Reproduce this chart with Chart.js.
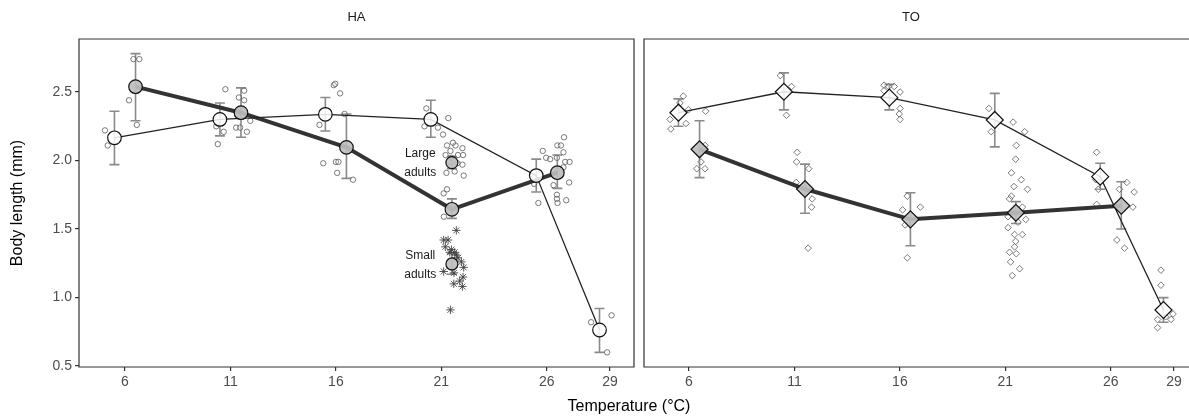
<!DOCTYPE html>
<html>
<head>
<meta charset="utf-8">
<script src="https://cdn.jsdelivr.net/npm/chart.js@4.4.0/dist/chart.umd.min.js"></script>
<style>
  html, body { margin: 0; padding: 0; background: #fff; overflow: hidden; }
  #wrap { position: relative; width: 1189px; height: 417px; overflow: hidden; }
  canvas { position: absolute; top: 0; }
  #left { left: 0; }
  #right { left: 640px; }
  #xtitle { position: absolute; left: 0; width: 1258px; top: 397px; text-align: center;
            font: 16px "Liberation Sans", Arial, sans-serif; color: #000; line-height: 18px; }
</style>
</head>
<body>
<div id="wrap">
  <canvas id="left" width="640" height="417"></canvas>
  <canvas id="right" width="549" height="417"></canvas>
  <div id="xtitle">Temperature (°C)</div>
</div>
<script>
// ---- data ----
const xTicks = [6, 11, 16, 21, 26, 29];
const yTicks = [0.5, 1.0, 1.5, 2.0, 2.5];
const dodge = 0.5;

const whiteTemps = [6, 11, 16, 21, 26, 29];
const greyTemps = [6, 11, 16, 21, 26];

// HA panel
const haWhiteMean = [2.166, 2.30, 2.337, 2.30, 1.89, 0.763];
const haWhiteLow  = [1.97, 2.18, 2.215, 2.17, 1.77, 0.60];
const haWhiteHigh = [2.36, 2.42, 2.46, 2.44, 2.01, 0.92];
const haGreyMean = [2.539, 2.349, 2.096, 1.644, 1.911];
const haGreyLow  = [2.29, 2.17, 1.87, 1.578, 1.797];
const haGreyHigh = [2.78, 2.53, 2.34, 1.72, 2.04];
const adultLabels = ["Large adults", "Small adults"];
const adultTemp = 21;
const adultMean = [1.985, 1.245];
const adultLow  = [1.94, 1.17];
const adultHigh = [2.03, 1.32];

const haWhiteRaw = [[5.05,2.22],[5.18,2.11],
  [10.76,2.52],[10.33,2.25],[10.68,2.21],[10.40,2.12],
  [15.22,2.26],[15.90,2.55],[15.97,2.56],[16.20,2.49],
  [20.29,2.38],[21.33,2.31],[20.20,2.25],[20.84,2.24],[21.08,2.19],
  [25.81,2.07],[25.97,2.02],[26.16,2.01],[25.40,1.83],[25.60,1.69],
  [28.10,0.82],[29.07,0.87],[28.86,0.60]];
const haGreyRaw = [[6.40,2.74],[6.68,2.74],[6.19,2.44],[6.56,2.26],
  [11.40,2.46],[11.65,2.51],[11.65,2.44],[11.94,2.29],[11.27,2.24],[11.46,2.24],[11.78,2.21],
  [16.41,2.34],[15.40,1.98],[16.00,1.99],[16.12,1.99],[16.06,1.91],[16.81,1.86],
  [21.27,2.11],[21.67,2.11],[22.00,2.09],[21.43,2.07],[21.20,2.04],[21.79,2.04],[22.03,2.04],
  [21.48,2.02],[22.00,1.97],[21.76,1.98],[21.24,1.91],[21.63,1.92],[22.06,1.89],[21.55,2.13],[21.35,1.99],
  [21.11,1.76],[21.27,1.79],[21.12,1.59],
  [26.82,2.17],[26.50,2.11],[26.67,2.11],[26.79,2.06],[26.48,2.02],[26.87,1.99],[27.08,1.99],
  [26.79,1.95],[27.06,1.84],[26.32,1.82],[26.48,1.75],[26.48,1.72],[26.51,1.69],[26.92,1.71]];
const haSmallRaw = [[21.71,1.49],[21.11,1.42],[21.32,1.42],[21.19,1.37],[21.48,1.35],[21.63,1.33],
  [21.40,1.33],[21.71,1.31],[21.79,1.29],[21.95,1.26],[22.06,1.22],[21.11,1.19],[21.60,1.18],
  [22.03,1.15],[21.87,1.12],[21.59,1.10],[22.00,1.08],[21.43,0.91]];

// TO panel
const toWhiteMean = [2.349, 2.502, 2.459, 2.296, 1.882, 0.909];
const toWhiteLow  = [2.25, 2.37, 2.37, 2.10, 1.79, 0.82];
const toWhiteHigh = [2.45, 2.64, 2.556, 2.49, 1.98, 0.999];
const toGreyMean = [2.082, 1.792, 1.571, 1.619, 1.67];
const toGreyLow  = [1.875, 1.615, 1.378, 1.54, 1.50];
const toGreyHigh = [2.29, 1.974, 1.765, 1.70, 1.845];

const toWhiteRaw = [[5.73,2.47],[5.57,2.42],[5.97,2.37],[6.79,2.36],[5.10,2.30],[5.86,2.27],[5.14,2.23],
  [10.33,2.62],[10.86,2.54],[10.62,2.33],
  [15.25,2.55],[15.73,2.54],[15.46,2.54],[15.25,2.51],[16.01,2.50],[16.01,2.38],[15.97,2.34],[16.01,2.30],
  [20.22,2.38],[21.37,2.28],[20.33,2.21],[21.92,2.21],[21.52,2.11],[21.49,2.01],
  [25.33,2.06],[25.29,1.86],[25.41,1.79],
  [28.38,1.20],[28.38,1.09],[28.22,0.84],[28.22,0.78],[28.95,0.88],[28.86,0.84],[28.60,0.86]];
const toGreyRaw = [[6.57,2.11],[6.76,2.11],[6.57,1.99],[6.37,1.94],[6.76,1.94],
  [11.13,2.06],[11.10,1.99],[11.68,1.94],[11.08,1.84],[11.84,1.72],[11.81,1.66],[11.65,1.36],
  [16.35,1.74],[16.97,1.66],[16.13,1.64],[16.25,1.53],[16.35,1.29],
  [21.29,1.91],[21.76,1.86],[21.41,1.81],[22.05,1.79],[21.29,1.74],[21.20,1.72],[21.81,1.66],
  [21.13,1.59],[21.97,1.57],[21.13,1.51],[21.44,1.46],[21.81,1.46],[21.49,1.41],[21.44,1.37],
  [21.20,1.33],[21.52,1.32],[21.25,1.26],[21.68,1.21],[21.33,1.16],[21.35,1.62],[21.60,1.55],
  [25.33,1.68],[26.41,1.79],[26.76,1.84],[27.11,1.77],[26.29,1.42],[26.65,1.36],[27.05,1.66]];

// ---- helpers ----
const FONT = '"Liberation Sans", Arial, sans-serif';

function pts(xs, ys, shift) {
  return xs.map((t, i) => ({ x: t + shift, y: ys[i] }));
}
function rawPts(list) {
  return list.map(p => ({ x: p[0], y: p[1] }));
}
function bars(xs, lo, hi, shift) {
  return xs.map((t, i) => ({ x: t + shift, low: lo[i], high: hi[i] }));
}

const errorBars = {
  id: 'errorBars',
  beforeDatasetsDraw(chart, args, opts) {
    const { ctx, scales: { x, y } } = chart;
    ctx.save();
    ctx.strokeStyle = '#8a8a8a';
    ctx.lineWidth = 1.6;
    (opts.bars || []).forEach(b => {
      const px = x.getPixelForValue(b.x);
      const lo = y.getPixelForValue(b.low);
      const hi = y.getPixelForValue(b.high);
      ctx.beginPath();
      ctx.moveTo(px, lo); ctx.lineTo(px, hi);
      ctx.moveTo(px - 5, lo); ctx.lineTo(px + 5, lo);
      ctx.moveTo(px - 5, hi); ctx.lineTo(px + 5, hi);
      ctx.stroke();
    });
    ctx.restore();
  }
};

const panelDecor = {
  id: 'panelDecor',
  afterDraw(chart, args, opts) {
    const { ctx, chartArea: a, scales: { x, y } } = chart;
    ctx.save();
    ctx.strokeStyle = '#333';
    ctx.lineWidth = 1.2;
    ctx.beginPath();
    if (opts.rightEdge) {
      ctx.rect(a.left, a.top, a.right - a.left, a.bottom - a.top);
    } else {
      ctx.moveTo(chart.width, a.top); ctx.lineTo(a.left, a.top);
      ctx.lineTo(a.left, a.bottom); ctx.lineTo(chart.width, a.bottom);
    }
    ctx.stroke();
    ctx.fillStyle = '#1a1a1a';
    ctx.font = '13px ' + FONT;
    ctx.textAlign = 'center';
    ctx.textBaseline = 'middle';
    ctx.fillText(opts.strip, opts.stripX, 17);
    ctx.font = '12px ' + FONT;
    (opts.notes || []).forEach(n => {
      ctx.fillText(n.text, x.getPixelForValue(n.x), y.getPixelForValue(n.y));
    });
    ctx.restore();
  }
};

function rawSet(data, style, r) {
  return { data, pointStyle: style, pointRadius: r, borderWidth: 1,
           borderColor: 'rgba(90,90,90,0.8)', backgroundColor: 'rgba(255,255,255,0.2)', order: 10 };
}
function lineSet(data, w) {
  return { data, showLine: true, pointRadius: 0, borderColor: w > 2 ? '#333' : '#222',
           borderWidth: w, tension: 0, order: 5 };
}
function markSet(data, style, r, fill) {
  return { data, pointStyle: style, pointRadius: r, borderWidth: 1.2,
           borderColor: '#111', backgroundColor: fill, order: 1 };
}

function makeOptions(xmin, xmax, showY, pad, decor, barList) {
  return {
    responsive: false,
    animation: false,
    layout: { padding: pad, autoPadding: false },
    plugins: {
      legend: { display: false },
      tooltip: { enabled: false },
      errorBars: { bars: barList },
      panelDecor: decor
    },
    scales: {
      x: {
        type: 'linear', min: xmin, max: xmax,
        afterBuildTicks: s => { s.ticks = xTicks.map(v => ({ value: v })); },
        afterFit: s => { s.height = 50; s.paddingLeft = 0; s.paddingRight = 0; },
        border: { display: false },
        grid: { drawOnChartArea: false, drawTicks: true, tickLength: 4, color: '#333', lineWidth: 1.2 },
        ticks: { color: '#4d4d4d', font: { size: 14, family: FONT }, padding: 3, maxRotation: 0 }
      },
      y: {
        display: showY,
        min: 0.493, max: 2.887,
        afterBuildTicks: s => { s.ticks = yTicks.map(v => ({ value: v })); },
        afterFit: s => { s.width = showY ? 79 : 0; s.paddingTop = 0; s.paddingBottom = 0; },
        border: { display: false },
        grid: { drawOnChartArea: false, drawTicks: true, tickLength: 4, color: '#333', lineWidth: 1.2 },
        ticks: { color: '#4d4d4d', font: { size: 14, family: FONT }, padding: 3,
                 callback: v => Number(v).toFixed(1) },
        title: { display: true, text: 'Body length (mm)', color: '#000',
                 font: { size: 16, family: FONT }, padding: { top: 8, bottom: 0 } }
      }
    }
  };
}

const WHITE = 'rgba(255,255,255,0.85)';
const GREY = 'rgba(190,190,190,0.92)';

// ---- HA ----
new Chart(document.getElementById('left'), {
  type: 'scatter',
  data: {
    datasets: [
      rawSet(rawPts(haWhiteRaw), 'circle', 2.7),
      rawSet(rawPts(haGreyRaw), 'circle', 2.7),
      Object.assign(rawSet(rawPts(haSmallRaw), 'star', 4.2), { borderColor: 'rgba(60,60,60,0.85)' }),
      lineSet(pts(whiteTemps, haWhiteMean, -dodge), 1.3),
      lineSet(pts(greyTemps, haGreyMean, dodge), 4),
      markSet(pts(whiteTemps, haWhiteMean, -dodge), 'circle', 6.8, WHITE),
      markSet(pts(greyTemps, haGreyMean, dodge), 'circle', 6.8, GREY),
      markSet(pts([adultTemp, adultTemp], adultMean, dodge), 'circle', 6, GREY)
    ]
  },
  options: makeOptions(3.819, 30.135, true, { left: 0, right: 6, top: 39, bottom: 0 },
    { strip: 'HA', stripX: 356.5, rightEdge: true,
      notes: [
        { text: adultLabels[0].split(' ')[0], x: 20.0, y: 2.047 },
        { text: adultLabels[0].split(' ')[1], x: 20.0, y: 1.909 },
        { text: adultLabels[1].split(' ')[0], x: 20.0, y: 1.305 },
        { text: adultLabels[1].split(' ')[1], x: 20.0, y: 1.164 }
      ] },
    bars(whiteTemps, haWhiteLow, haWhiteHigh, -dodge)
      .concat(bars(greyTemps, haGreyLow, haGreyHigh, dodge))
      .concat(bars([adultTemp, adultTemp], adultLow, adultHigh, dodge))),
  plugins: [errorBars, panelDecor]
});

// ---- TO ----
new Chart(document.getElementById('right'), {
  type: 'scatter',
  data: {
    datasets: [
      rawSet(rawPts(toWhiteRaw), 'rectRot', 3.3),
      rawSet(rawPts(toGreyRaw), 'rectRot', 3.3),
      lineSet(pts(whiteTemps, toWhiteMean, -dodge), 1.3),
      lineSet(pts(greyTemps, toGreyMean, dodge), 4),
      markSet(pts(whiteTemps, toWhiteMean, -dodge), 'rectRot', 8.5, WHITE),
      markSet(pts(greyTemps, toGreyMean, dodge), 'rectRot', 8.5, GREY)
    ]
  },
  options: makeOptions(3.866, 29.71, false, { left: 4, right: 0, top: 39, bottom: 0 },
    { strip: 'TO', stripX: 271, rightEdge: false },
    bars(whiteTemps, toWhiteLow, toWhiteHigh, -dodge)
      .concat(bars(greyTemps, toGreyLow, toGreyHigh, dodge))),
  plugins: [errorBars, panelDecor]
});
</script>
</body>
</html>
